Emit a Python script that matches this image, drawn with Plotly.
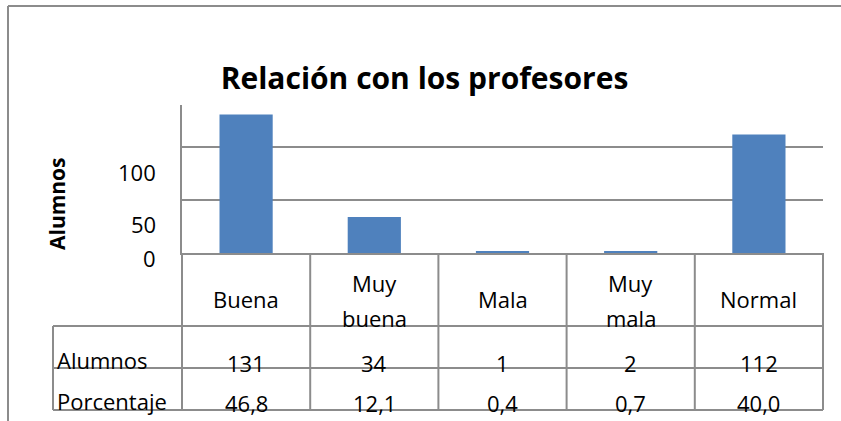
import plotly.graph_objects as go

# ---- data ----
categories = ["Buena", "Muy buena", "Mala", "Muy mala", "Normal"]
alumnos = [131, 34, 1, 2, 112]
porcentaje = ["46,8", "12,1", "0,4", "0,7", "40,0"]
row_labels = ["Alumnos", "Porcentaje"]
y_ticks = [0, 50, 100]
title_text = "Relación con los profesores"
y_title = "Alumnos"

# ---- style ----
W, H = 841, 421
L, R, T, B = 182, 18, 105, 168
PW, PH = W - L - R, H - T - B
BAR = "#4F81BD"
LINE = "#8c8c8c"
FONT = "Open Sans"
tick_shift = [-4.5, -23.5, -25]


def px(xp):
    return (xp - L) / PW


def py(yp):
    return (H - B - yp) / PH


fig = go.Figure()
fig.add_trace(go.Bar(x=categories, y=alumnos, marker=dict(color=BAR, line=dict(width=0)),
                     hoverinfo="skip"))

shapes = []
n = len(categories)
table_bottom = py(410)
header_bottom = py(326)
row_line = py(368)
left_edge = px(53)
for i in range(n + 1):
    xb = i / n
    shapes.append(dict(type="line", xref="paper", yref="paper", x0=xb, x1=xb,
                       y0=0, y1=table_bottom, line=dict(color=LINE, width=2)))
for yl in [header_bottom, row_line, table_bottom]:
    shapes.append(dict(type="line", xref="paper", yref="paper", x0=left_edge, x1=1,
                       y0=yl, y1=yl, line=dict(color=LINE, width=2)))
shapes.append(dict(type="line", xref="paper", yref="paper", x0=left_edge, x1=left_edge,
                   y0=header_bottom, y1=table_bottom, line=dict(color=LINE, width=2)))
# chart border (top + left)
shapes.append(dict(type="line", xref="paper", yref="paper", x0=px(8), x1=px(860),
                   y0=py(6), y1=py(6), line=dict(color=LINE, width=2)))
shapes.append(dict(type="line", xref="paper", yref="paper", x0=px(8), x1=px(8),
                   y0=py(6), y1=py(440), line=dict(color=LINE, width=2)))

ann = []
txt = dict(family=FONT, size=22, color="black")
for c in categories:
    parts = c.split(" ")
    if len(parts) == 1:
        ann.append(dict(x=c, xref="x", y=py(299), yref="paper", text=c, showarrow=False,
                        font=txt, xanchor="center", yanchor="middle"))
    else:
        for part, yy in zip(parts, [283, 318]):
            ann.append(dict(x=c, xref="x", y=py(yy), yref="paper", text=part, showarrow=False,
                            font=txt, xanchor="center", yanchor="middle"))
for c, a, p in zip(categories, alumnos, porcentaje):
    ann.append(dict(x=c, xref="x", y=py(363), yref="paper", text=str(a), showarrow=False,
                    font=txt, xanchor="center", yanchor="middle"))
    ann.append(dict(x=c, xref="x", y=py(403), yref="paper", text=p, showarrow=False,
                    font=txt, xanchor="center", yanchor="middle"))
for lab, yy in zip(row_labels, [360, 401]):
    ann.append(dict(x=px(55), xref="paper", y=py(yy), yref="paper", text=lab, showarrow=False,
                    font=txt, xanchor="left", yanchor="middle"))
for v, s in zip(y_ticks, tick_shift):
    ann.append(dict(x=px(158), xref="paper", y=v, yref="y", yshift=s, text=str(v),
                    showarrow=False, font=txt, xanchor="right", yanchor="middle"))
ann.append(dict(x=px(57), xref="paper", y=py(204), yref="paper", text="<b>%s</b>" % y_title,
                textangle=-90, showarrow=False, font=dict(family=FONT, size=21, color="black"),
                xanchor="center", yanchor="middle"))

fig.update_layout(
    width=W, height=H,
    margin=dict(l=L, r=R, t=T, b=B, pad=0),
    paper_bgcolor="white", plot_bgcolor="white",
    showlegend=False,
    bargap=0.585,
    title=dict(text="<b>%s</b>" % title_text, x=424.5 / W, xanchor="center",
               y=1 - 78 / H, yanchor="middle", yref="container",
               font=dict(family=FONT, size=30, color="black")),
    xaxis=dict(range=[-0.5, n - 0.5], showticklabels=False, ticks="", showgrid=False,
               showline=True, linecolor=LINE, linewidth=2, zeroline=False, fixedrange=True),
    yaxis=dict(range=[0, 140], tickvals=y_ticks, showticklabels=False, ticks="",
               showgrid=True, gridcolor=LINE, gridwidth=2, zeroline=False,
               showline=True, linecolor=LINE, linewidth=2, fixedrange=True),
    shapes=shapes,
    annotations=ann,
)

fig.write_html("out.html", config=dict(displayModeBar=False),
               post_script="document.body.style.margin='0';document.body.style.overflow='hidden';")
